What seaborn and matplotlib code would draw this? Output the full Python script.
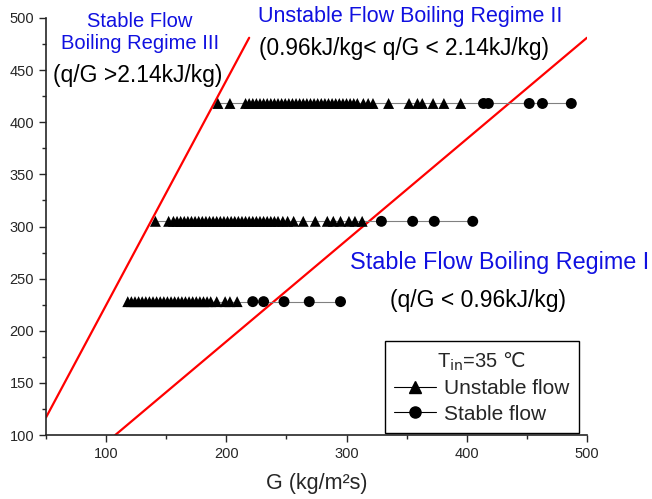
import matplotlib
matplotlib.use("Agg")
import matplotlib.pyplot as plt
from matplotlib.lines import Line2D
from matplotlib.ticker import MultipleLocator
import seaborn as sns
import pandas as pd

# ---- data ----
q_rows = [418, 305, 228]

unstable_418 = [193, 203, 216, 219, 222, 225, 228, 231, 234, 237, 240, 243, 246, 249,
                252, 255, 258, 261, 264, 267, 270, 273, 276, 279, 282, 285, 288, 291,
                294, 297, 300, 303, 306, 309, 314, 318, 322, 335, 352, 359, 363, 372,
                381, 395]
stable_418 = [414, 418, 452, 463, 487]

unstable_305 = [141, 152, 156, 159, 162, 165, 168, 171, 174, 177, 180, 183, 186, 189,
                192, 195, 198, 201, 204, 207, 210, 213, 216, 219, 222, 225, 228, 231,
                234, 237, 240, 243, 247, 251, 256, 264, 274, 284, 289, 295, 302, 307, 313]
stable_305 = [329, 355, 373, 405]

unstable_228 = [118, 121, 124, 127, 130, 133, 136, 139, 142, 145, 148, 151, 154, 157,
                160, 163, 166, 169, 172, 175, 178, 181, 184, 187, 192, 199, 203, 209]
stable_228 = [222, 231, 248, 269, 295]

# boundary lines (G, q) end points
line_high_G = [50, 219]
line_high_q = [117, 481]
line_low_G = [107.5, 500]
line_low_q = [100, 481]

x_ticks = [100, 200, 300, 400, 500]
y_ticks = [100, 150, 200, 250, 300, 350, 400, 450, 500]

# ---- build table ----
rows = []
for q, uns, sta in [(q_rows[0], unstable_418, stable_418),
                    (q_rows[1], unstable_305, stable_305),
                    (q_rows[2], unstable_228, stable_228)]:
    for g in uns:
        rows.append(dict(G=g, q=q, flow="Unstable flow", row=q))
    for g in sta:
        rows.append(dict(G=g, q=q, flow="Stable flow", row=q))
df = pd.DataFrame(rows)
lines = pd.DataFrame(dict(
    G=line_high_G + line_low_G,
    q=line_high_q + line_low_q,
    which=["high"] * 2 + ["low"] * 2))

sns.set_style("ticks")
plt.rcParams["font.family"] = ["Liberation Sans", "DejaVu Sans"]
plt.rcParams["mathtext.fontset"] = "custom"
plt.rcParams["mathtext.rm"] = "DejaVu Sans"
plt.rcParams["mathtext.it"] = "DejaVu Sans"

fig = plt.figure(figsize=(6.52, 4.99), dpi=100)
ax = fig.add_axes([0.0706, 0.128, 0.8296, 0.836])

# boundary lines
sns.lineplot(data=lines, x="G", y="q", units="which", estimator=None,
             color="red", linewidth=1.6, ax=ax, legend=False)

# connecting thin lines
sns.lineplot(data=df.sort_values("G"), x="G", y="q", units="row", estimator=None,
             color="#808080", linewidth=0.8, ax=ax, legend=False, sort=True)

# markers
sns.scatterplot(data=df, x="G", y="q", style="flow",
                markers={"Unstable flow": "^", "Stable flow": "o"},
                color="black", edgecolor="black", s=62, linewidth=0,
                ax=ax, legend=False, zorder=5)

ax.set_xlim(50, 500)
ax.set_ylim(100, 500)
ax.set_xticks(x_ticks)
ax.set_yticks(y_ticks)
ax.xaxis.set_minor_locator(MultipleLocator(50))
ax.yaxis.set_minor_locator(MultipleLocator(25))
ax.tick_params(which="major", direction="out", length=5, width=1, labelsize=10.5)
ax.tick_params(which="minor", direction="out", length=3, width=1)
sns.despine(ax=ax)
for s in ["left", "bottom"]:
    ax.spines[s].set_linewidth(1.2)
ax.set_xlabel("G (kg/m\u00b2s)", fontsize=15.5, labelpad=9)
ax.set_ylabel("")

blue = "#1010e0"
ax.text(128, 486, "Stable Flow\nBoiling Regime III", color=blue, fontsize=14.5,
        ha="center", va="center", linespacing=1.15, clip_on=False)
ax.text(126, 445, "(q/G >2.14kJ/kg)", color="black", fontsize=16.5,
        ha="center", va="center")
ax.text(353, 501, "Unstable Flow Boiling Regime II", color=blue, fontsize=15.5,
        ha="center", va="center", clip_on=False)
ax.text(348, 471, "(0.96kJ/kg< q/G < 2.14kJ/kg)", color="black", fontsize=16.3,
        ha="center", va="center")
ax.text(427, 266, "Stable Flow Boiling Regime I", color=blue, fontsize=16.8,
        ha="center", va="center", clip_on=False)
ax.text(409, 229, "(q/G < 0.96kJ/kg)", color="black", fontsize=16.5,
        ha="center", va="center")

handles = [
    Line2D([], [], color="black", linewidth=0.8, marker="^", markersize=9,
           label="Unstable flow"),
    Line2D([], [], color="black", linewidth=0.8, marker="o", markersize=8,
           label="Stable flow"),
]
leg = ax.legend(handles=handles, title="T$_{\\rm in}$=35 $\\mathrm{\u2103}$",
                loc="lower right",
                bbox_to_anchor=(0.985, 0.005), fontsize=15, title_fontsize=14.5,
                fancybox=False, framealpha=1, edgecolor="black", handlelength=2.0,
                borderpad=0.45, labelspacing=0.3, handletextpad=0.4,
                borderaxespad=0.0)
leg.get_frame().set_linewidth(1.0)

fig.savefig("out.png", dpi=100)
